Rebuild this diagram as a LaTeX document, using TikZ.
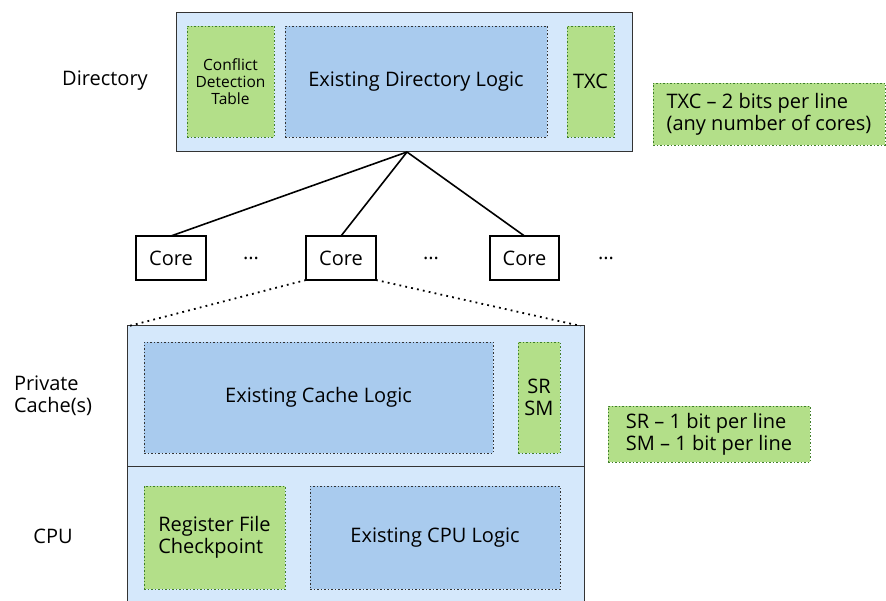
\documentclass[tikz,border=0pt]{standalone}
\usepackage{fontspec}
\setmainfont{Open Sans}
\definecolor{lblue}{HTML}{D5E8FB}
\definecolor{mblue}{HTML}{A9CBEE}
\definecolor{lgreen}{HTML}{B3DF89}
\definecolor{dgreen}{HTML}{3F7F2A}
\definecolor{dgray}{HTML}{333333}
\tikzset{
  base/.style={inner sep=0pt, outer sep=0pt, align=center},
  outerbox/.style={base, draw=dgray, line width=1pt, fill=lblue},
  bluebox/.style={base, draw=dgray, fill=mblue, line width=0.8pt, dash pattern=on 1.5pt off 2pt},
  greenbox/.style={base, draw=dgreen, fill=lgreen, line width=0.8pt, dash pattern=on 1.5pt off 2pt},
  corebox/.style={base, draw=black, line width=1.2pt, fill=white, minimum width=70pt, minimum height=44pt},
  link/.style={line width=1.6pt},
  zoomline/.style={line width=1.8pt, dash pattern=on 1.8pt off 4.2pt},
  lbl/.style={base}
}
\begin{document}
\begin{tikzpicture}[x=1pt,y=-1pt, font=\fontsize{20}{22}\selectfont]
\useasboundingbox (0,0) rectangle (886,601);
% Directory
\node[outerbox, minimum width=456pt, minimum height=139pt] (dir) at (404,82.5) {};
\node[greenbox, minimum width=87pt, minimum height=111pt, font=\fontsize{15.5}{17}\selectfont] (cdt) at (230.5,81.5) {Conflict\\Detection\\Table};
\node[bluebox, minimum width=262pt, minimum height=111pt] (edl) at (416,81.5) {Existing Directory Logic};
\node[greenbox, minimum width=47pt, minimum height=111pt] (txc) at (590.5,81.5) {TXC};
\node[greenbox, minimum width=232pt, minimum height=62pt, align=left] (txcnote) at (769,114) {TXC -- 2 bits per line\\(any number of cores)};
\node[lbl] (dirlbl) at (105,81) {Directory};
% Cores
\coordinate (junc) at (407,152);
\node[corebox] (core1) at (171,258) {Core};
\node[corebox] (core2) at (341,258) {Core};
\node[corebox, minimum width=69pt] (core3) at (524.5,258) {Core};
\node[lbl] (dots1) at (251,258) {...};
\node[lbl] (dots2) at (431,258) {...};
\node[lbl] (dots3) at (606,258) {...};
\draw[link] (junc) -- (core1.north);
\draw[link] (junc) -- (core2.north);
\draw[link] (junc) -- (core3.north);
% Lower block
\node[outerbox, minimum width=457pt, minimum height=140pt] (cache) at (355.5,396) {};
\node[outerbox, minimum width=457pt, minimum height=144pt] (cpu) at (355.5,538) {};
\draw[zoomline] (core2.south west) -- ([xshift=2pt]cache.north west);
\draw[zoomline] (core2.south east) -- ([xshift=-3pt]cache.north east);
\node[bluebox, minimum width=349pt, minimum height=111pt] (ecl) at (318.5,397.5) {Existing Cache Logic};
\node[greenbox, minimum width=42pt, minimum height=111pt] (srsm) at (539,397.5) {SR\\SM};
\node[greenbox, minimum width=202pt, minimum height=56pt, align=left] (srnote) at (709,434) {SR -- 1 bit per line\\SM -- 1 bit per line};
\node[greenbox, minimum width=141pt, minimum height=103pt, align=left] (rfc) at (214.5,537.5) {Register File\\Checkpoint};
\node[bluebox, minimum width=250pt, minimum height=103pt] (ecpu) at (435,537.5) {Existing CPU Logic};
\node[lbl, anchor=west, align=left] (pclbl) at (14,396) {Private\\Cache(s)};
\node[lbl] (cpulbl) at (53,536) {CPU};
\end{tikzpicture}
\end{document}
